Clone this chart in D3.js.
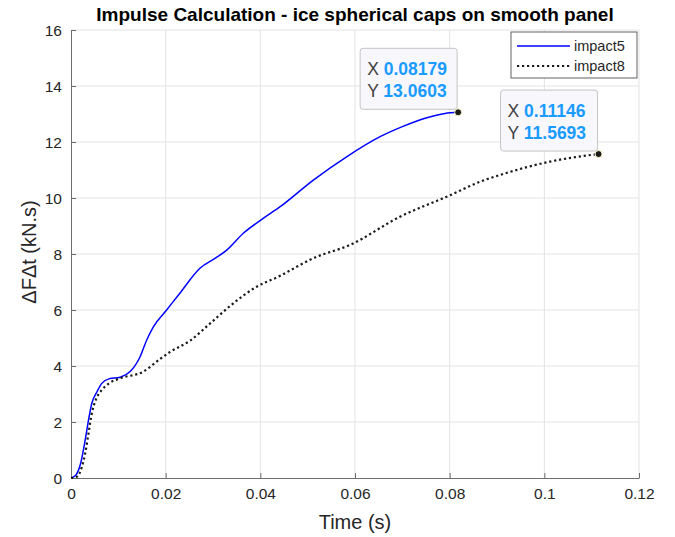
<!DOCTYPE html>
<html>
<head>
<meta charset="utf-8">
<script src="https://cdn.jsdelivr.net/npm/d3@7"></script>
<style>
  body { margin: 0; background: #fff; }
  text { font-family: Arial, "Liberation Sans", Helvetica, sans-serif; }
</style>
</head>
<body>
<script>
// impact5 (blue solid) and impact8 (black dotted)
const t5 = [0, 0.001, 0.002, 0.003, 0.0037, 0.0044, 0.0055, 0.0065, 0.008, 0.0104, 0.0125, 0.0146, 0.016, 0.0174, 0.0202, 0.023, 0.0273, 0.0305, 0.0329, 0.0364, 0.0406, 0.0442, 0.0512, 0.0583, 0.0653, 0.07, 0.075, 0.079, 0.08179];
const y5 = [0, 0.1, 0.5, 1.36, 2.07, 2.67, 3.08, 3.38, 3.54, 3.6, 3.8, 4.33, 4.93, 5.4, 6.0, 6.6, 7.5, 7.85, 8.14, 8.74, 9.27, 9.69, 10.64, 11.48, 12.19, 12.55, 12.86, 13.02, 13.0603];
const t8 = [0, 0.0013, 0.0023, 0.003, 0.0037, 0.0044, 0.0051, 0.0065, 0.008, 0.0104, 0.0153, 0.0188, 0.021, 0.0251, 0.0294, 0.0343, 0.0392, 0.0442, 0.0484, 0.0512, 0.0589, 0.0695, 0.0801, 0.0864, 0.0906, 0.1012, 0.1082, 0.11146];
const y8 = [0, 0.05, 0.4, 0.88, 1.6, 2.31, 2.73, 3.14, 3.38, 3.56, 3.8, 4.25, 4.51, 4.9, 5.52, 6.24, 6.83, 7.22, 7.61, 7.85, 8.32, 9.33, 10.1, 10.58, 10.82, 11.3, 11.5, 11.5693];
const xTicks = [0, 0.02, 0.04, 0.06, 0.08, 0.1, 0.12];
const yTicks = [0, 2, 4, 6, 8, 10, 12, 14, 16];
const seriesNames = ['impact5', 'impact8'];
const tipLabels = [['0.08179', '13.0603'], ['0.11146', '11.5693']];

const W = 675, H = 537;
const margin = { top: 30, right: 36, bottom: 59, left: 71 };
const width = W - margin.left - margin.right;
const height = H - margin.top - margin.bottom;

const svg = d3.select('body').append('svg')
  .attr('width', W).attr('height', H);
const g = svg.append('g')
  .attr('transform', `translate(${margin.left},${margin.top})`);

const x = d3.scaleLinear().domain([0, 0.12]).range([0, width]);
const y = d3.scaleLinear().domain([0, 16]).range([height, 0]);

// grid
g.append('g').selectAll('line').data(xTicks.slice(1)).join('line')
  .attr('x1', d => x(d)).attr('x2', d => x(d)).attr('y1', 0).attr('y2', height)
  .attr('stroke', '#e3e3e3').attr('stroke-width', 1);
g.append('g').selectAll('line').data(yTicks.slice(1)).join('line')
  .attr('y1', d => y(d)).attr('y2', d => y(d)).attr('x1', 0).attr('x2', width)
  .attr('stroke', '#e3e3e3').attr('stroke-width', 1);

// axes (ticks point inward, like matlab)
const xAxis = g.append('g').attr('transform', `translate(0,${height})`)
  .call(d3.axisBottom(x).tickValues(xTicks).tickFormat(d => d3.format('')(+d.toFixed(2)))
    .tickSizeInner(-5).tickSizeOuter(0).tickPadding(10));
const yAxis = g.append('g')
  .call(d3.axisLeft(y).tickValues(yTicks).tickSizeInner(-5).tickSizeOuter(0).tickPadding(9));
[xAxis, yAxis].forEach(a => {
  a.select('.domain').attr('stroke', '#6e6e6e');
  a.selectAll('.tick line').attr('stroke', '#6e6e6e');
  a.selectAll('.tick text').attr('fill', '#262626').style('font-size', '15.5px');
});
yAxis.selectAll('.tick text').attr('dy', '0.35em');

// lines
const line = d3.line().curve(d3.curveMonotoneX);
g.append('path')
  .attr('d', line(t5.map((t, i) => [x(t), y(y5[i])])))
  .attr('fill', 'none').attr('stroke', '#0000ff').attr('stroke-width', 1.5);
g.append('path')
  .attr('d', line(t8.map((t, i) => [x(t), y(y8[i])])))
  .attr('fill', 'none').attr('stroke', '#1a1a1a').attr('stroke-width', 2.2)
  .attr('stroke-dasharray', '2.2,2.8');

// data tips
const ends = [[t5[t5.length - 1], y5[y5.length - 1]], [t8[t8.length - 1], y8[y8.length - 1]]];
ends.forEach((p, i) => {
  const px = x(p[0]), py = y(p[1]);
  const tip = g.append('g').attr('transform', `translate(${px - 98},${py - 64})`);
  tip.append('rect').attr('width', 97).attr('height', 61).attr('rx', 3)
    .attr('fill', '#f7f7fc').attr('stroke', '#c4c4c4');
  ['X', 'Y'].forEach((lab, j) => {
    const tx = tip.append('text').attr('x', 7).attr('y', 27 + j * 22).style('font-size', '17.5px');
    tx.append('tspan').attr('fill', '#404040').text(lab + ' ');
    tx.append('tspan').attr('fill', '#1a9bff').attr('font-weight', 'bold').text(tipLabels[i][j]);
  });
  g.append('circle').attr('cx', px).attr('cy', py).attr('r', 3.5)
    .attr('fill', '#1a1a1a').attr('stroke', '#fffacd').attr('stroke-width', 1);
});

// legend
const leg = g.append('g').attr('transform', `translate(${width - 128},2)`);
leg.append('rect').attr('width', 126).attr('height', 46)
  .attr('fill', '#fff').attr('stroke', '#3c3c3c').attr('stroke-width', 0.8);
seriesNames.forEach((name, i) => {
  const ly = 14 + i * 20;
  leg.append('line').attr('x1', 6).attr('x2', 59).attr('y1', ly).attr('y2', ly)
    .attr('stroke', i === 0 ? '#0000ff' : '#1a1a1a')
    .attr('stroke-width', i === 0 ? 1.5 : 2.2)
    .attr('stroke-dasharray', i === 0 ? null : '2.2,2.8');
  leg.append('text').attr('x', 63).attr('y', ly).attr('dy', '0.35em')
    .attr('fill', '#262626').style('font-size', '14.5px').text(name);
});

// labels
svg.append('text').attr('x', margin.left + width / 2).attr('y', 21)
  .attr('text-anchor', 'middle').attr('font-weight', 'bold')
  .style('font-size', '19px').attr('fill', '#000')
  .text('Impulse Calculation - ice spherical caps on smooth panel');
svg.append('text').attr('x', margin.left + width / 2).attr('y', 529)
  .attr('text-anchor', 'middle').style('font-size', '20px').attr('fill', '#262626')
  .text('Time (s)');
svg.append('text')
  .attr('transform', `translate(36,${margin.top + height / 2 - 2}) rotate(-90)`)
  .attr('text-anchor', 'middle').style('font-size', '20px').attr('fill', '#262626')
  .text('\u0394F\u0394t (kN.s)');
</script>
</body>
</html>
